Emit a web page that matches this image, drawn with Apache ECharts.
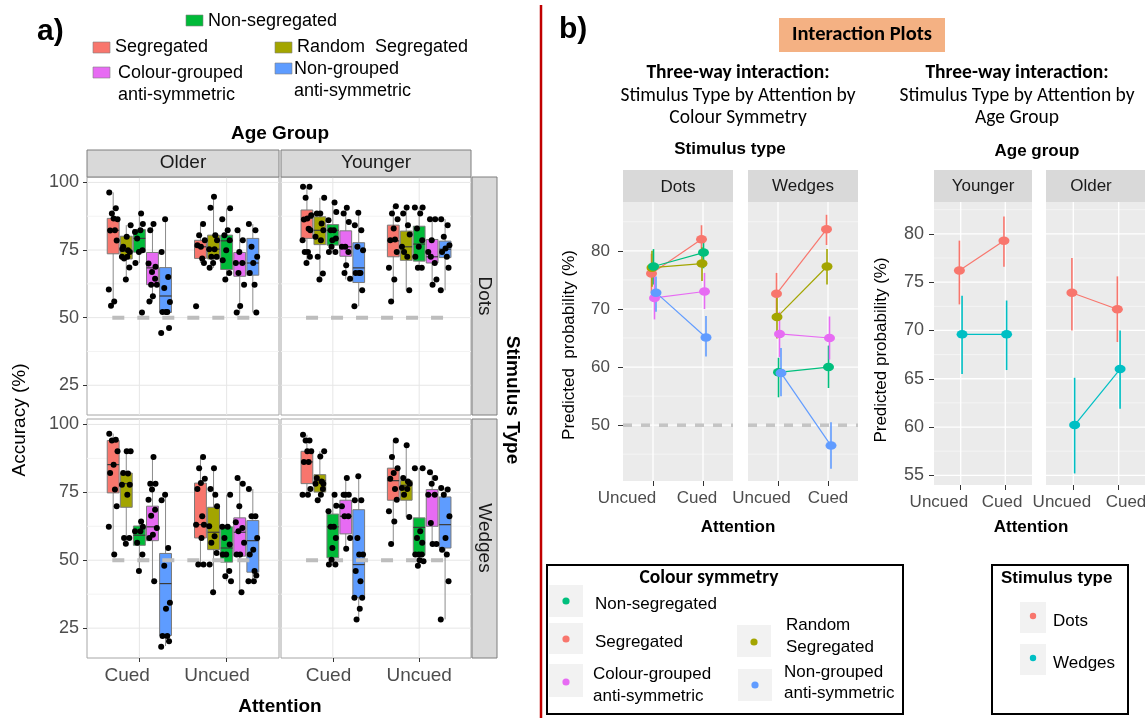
<!DOCTYPE html>
<html>
<head>
<meta charset="utf-8">
<script src="https://cdn.jsdelivr.net/npm/echarts@6/dist/echarts.min.js"></script>
<style>
  html, body { margin: 0; padding: 0; background: #fff; }
  #chart { width: 1145px; height: 718px; }
</style>
</head>
<body>
<div id="chart"></div>
<script>
// ---------- data ----------
const symmetryGroups = ['Segregated', 'Random Segregated', 'Non-segregated', 'Colour-grouped anti-symmetric', 'Non-grouped anti-symmetric'];
const attentionA = ['Cued', 'Uncued'];
const attentionB = ['Uncued', 'Cued'];
const stimulusTypes = ['Dots', 'Wedges'];
const chanceLevel = 50;

const accuracyTicks = [25, 50, 75, 100];
const accuracyMinor = [37.5, 62.5, 87.5];
const probTicks = [50, 60, 70, 80];
const probMinor = [45, 55, 65, 75, 85];
const ageProbTicks = [55, 60, 65, 70, 75, 80];
const ageProbMinor = [57.5, 62.5, 67.5, 72.5, 77.5, 82.5];

// box stats per colour symmetry group: [low, q1, median, q3, high]
const boxOlderDotsCued = [[54.4, 73.6, 82.3, 86.7, 96.3], [64.1, 71.7, 74.6, 80.1, 84.2], [70.2, 74.2, 79.3, 82.6, 88.5], [56.0, 62.2, 68.4, 74.1, 84.6], [51.9, 51.9, 58.0, 68.5, 86.4]];
const boxOlderDotsUncued = [[70.2, 71.9, 76.2, 78.6, 84.6], [68.4, 71.7, 75.3, 80.5, 94.7], [64.1, 67.8, 78.4, 80.5, 90.4], [51.9, 65.3, 70.2, 74.1, 82.3], [51.9, 65.7, 70.2, 79.3, 84.6]];
const boxYoungerDotsCued = [[70.2, 79.3, 86.7, 89.8, 98.4], [64.1, 77.0, 82.3, 87.3, 94.3], [74.3, 76.8, 82.3, 84.4, 92.6], [64.1, 72.7, 76.2, 82.1, 90.6], [54.2, 63.0, 68.4, 77.7, 88.8]];
const boxYoungerDotsUncued = [[56.0, 72.5, 78.4, 84.2, 91.2], [60.1, 71.2, 76.2, 82.0, 90.7], [68.4, 70.9, 77.2, 83.8, 90.7], [62.2, 70.2, 72.5, 78.9, 86.4], [60.1, 72.2, 75.3, 78.3, 86.4]];
const boxOlderWedgesCued = [[52.1, 74.8, 85.2, 94.1, 96.6], [56.1, 69.5, 78.2, 82.1, 90.1], [46.0, 55.5, 59.2, 62.6, 64.3], [42.3, 57.2, 62.3, 69.9, 88.0], [18.4, 22.3, 41.4, 52.5, 74.1]];
const boxOlderWedgesUncued = [[48.4, 58.2, 63.1, 78.4, 88.0], [38.2, 53.9, 60.3, 69.5, 83.9], [42.3, 49.3, 54.5, 62.3, 74.1], [38.2, 51.5, 60.3, 65.6, 80.3], [41.9, 45.6, 57.2, 64.6, 76.2]];
const boxYoungerWedgesCued = [[74.1, 78.2, 86.2, 90.1, 96.2], [72.1, 75.1, 79.4, 81.5, 90.1], [48.0, 50.9, 62.3, 67.0, 74.1], [54.2, 59.7, 66.2, 72.1, 80.3], [28.2, 36.2, 48.4, 68.6, 80.9]];
const boxYoungerWedgesUncued = [[56.0, 72.1, 79.3, 83.9, 94.1], [65.9, 72.1, 77.6, 79.3, 92.3], [48.0, 51.8, 62.1, 65.6, 83.9], [56.0, 62.5, 74.1, 76.0, 82.4], [28.2, 54.5, 63.1, 73.3, 76.6]];

// individual participant accuracies per group
const ptsOlderDotsCued = [
  [96.3, 90.4, 88.5, 86.4, 86.7, 82.2, 82.3, 78.5, 60.4, 56.0, 54.4],
  [84.2, 79.9, 76.2, 74.9, 74.3, 72.5, 72.5, 71.9, 68.5, 64.1, 75.4],
  [88.5, 84.6, 81.7, 82.3, 79.3, 74.9, 74.3, 70.2, 51.9],
  [84.6, 82.3, 68.8, 66.9, 70.0, 64.4, 62.2, 62.2, 57.9, 56.0],
  [86.4, 74.3, 65.0, 61.0, 55.8, 52.1, 52.1, 52.1, 46.2, 44.3]
];
const ptsOlderDotsUncued = [
  [84.6, 80.5, 78.6, 76.2, 76.8, 71.9, 70.2, 54.2],
  [94.7, 90.6, 80.5, 78.6, 75.3, 75.3, 72.5, 72.5, 70.2, 68.4],
  [90.4, 86.4, 82.3, 80.5, 78.6, 74.9, 71.2, 66.5, 64.1],
  [82.3, 78.6, 74.3, 70.2, 70.2, 66.5, 62.2, 54.3, 51.9],
  [84.6, 82.3, 76.2, 72.5, 70.2, 66.5, 62.2, 51.9]
];
const ptsYoungerDotsCued = [
  [98.4, 98.4, 94.3, 87.9, 86.7, 86.3, 82.9, 82.3, 78.6, 74.3, 74.3, 72.5, 70.2],
  [94.3, 88.5, 88.5, 84.8, 82.3, 79.9, 78.6, 72.5, 66.3, 64.1],
  [92.6, 89.1, 86.0, 82.3, 82.3, 79.3, 78.6, 74.3, 74.3, 76.2],
  [90.6, 88.5, 85.4, 76.2, 76.2, 74.3, 66.5, 64.4, 69.4],
  [88.8, 84.2, 82.3, 76.2, 74.9, 66.5, 66.5, 66.5, 60.1, 54.2]
];
const ptsYoungerDotsUncued = [
  [91.2, 88.5, 86.4, 83.0, 78.6, 78.9, 74.3, 68.4, 64.1, 56.0],
  [90.7, 88.5, 84.2, 80.7, 76.2, 72.5, 74.3, 60.1],
  [90.7, 90.7, 88.5, 83.0, 78.6, 76.2, 72.5, 68.4, 68.4],
  [86.4, 86.4, 78.6, 74.3, 70.2, 72.5, 64.1, 62.2],
  [86.4, 84.2, 79.9, 76.8, 75.6, 74.3, 72.5, 68.4, 60.1]
];
const ptsOlderWedgesCued = [
  [96.6, 94.4, 94.1, 90.1, 85.2, 82.1, 76.0, 69.9, 62.3, 52.1],
  [90.1, 90.1, 82.1, 81.9, 77.8, 77.8, 74.1, 58.2, 58.2, 56.1],
  [64.3, 62.3, 60.7, 60.7, 56.4, 52.1, 46.0],
  [88.0, 78.2, 78.2, 76.0, 72.3, 68.6, 66.4, 61.9, 59.4, 58.2, 42.3],
  [74.1, 72.1, 54.5, 48.0, 34.3, 32.1, 22.1, 22.1, 20.2, 18.1]
];
const ptsOlderWedgesUncued = [
  [88.0, 83.9, 80.0, 78.4, 76.2, 66.2, 63.1, 63.1, 58.2, 48.4, 48.4],
  [83.9, 76.2, 74.1, 69.9, 62.5, 58.8, 56.4, 52.7, 38.2, 48.4],
  [74.1, 62.3, 62.3, 58.2, 55.8, 52.1, 52.1, 46.0, 44.1, 42.3],
  [80.3, 78.2, 69.9, 64.0, 61.9, 60.7, 56.4, 52.1, 52.1, 38.2],
  [76.2, 66.2, 66.2, 58.2, 53.9, 52.1, 46.0, 44.4, 42.3, 42.3]
];
const ptsYoungerWedgesCued = [
  [96.2, 94.1, 94.1, 90.1, 90.1, 86.2, 86.2, 76.2, 74.1, 74.1],
  [90.1, 88.2, 80.3, 79.0, 78.2, 78.2, 74.1, 72.1, 76.2],
  [74.1, 70.1, 68.0, 62.3, 62.3, 58.2, 54.5, 48.4, 48.4, 50.2],
  [80.3, 74.1, 74.1, 74.1, 69.9, 66.2, 66.2, 58.2, 54.2],
  [80.9, 72.1, 72.1, 58.2, 52.1, 52.1, 46.0, 42.3, 36.2, 36.2, 32.1, 28.2]
];
const ptsYoungerWedgesUncued = [
  [94.1, 88.0, 83.9, 82.1, 80.0, 76.2, 72.3, 68.0, 64.3, 56.0],
  [92.3, 80.3, 79.0, 78.2, 76.6, 76.2, 74.1, 65.9],
  [83.9, 83.9, 60.7, 58.2, 56.4, 52.1, 52.1, 52.1, 48.0, 49.6, 50.0],
  [82.4, 80.3, 78.2, 74.1, 74.1, 63.7, 56.0, 56.0],
  [76.6, 76.0, 74.1, 66.2, 58.2, 53.9, 52.1, 42.3, 28.2]
];

// predicted probability [mean, lower, upper] for Uncued, Cued
const probSymDots = [
  [[76.1, 72.8, 79.5], [82.0, 79.4, 84.4]],
  [[77.1, 73.8, 80.0], [77.8, 74.8, 80.6]],
  [[77.3, 74.2, 80.3], [79.7, 77.0, 82.3]],
  [[71.9, 68.2, 75.7], [73.0, 70.0, 76.2]],
  [[72.8, 69.5, 75.6], [65.1, 61.8, 68.8]]
];
const probSymWedges = [
  [[72.6, 69.0, 76.2], [83.7, 81.0, 86.2]],
  [[68.6, 64.9, 72.3], [77.3, 74.2, 80.3]],
  [[59.1, 54.8, 61.6], [60.0, 56.4, 63.7]],
  [[65.7, 61.7, 69.5], [65.0, 61.3, 68.7]],
  [[59.0, 55.0, 63.3], [46.5, 42.5, 50.5]]
];
const probAgeYounger = [
  [[76.2, 72.7, 79.3], [79.3, 76.6, 81.8]],
  [[69.6, 65.5, 73.6], [69.6, 65.9, 73.1]]
];
const probAgeOlder = [
  [[73.9, 70.0, 77.5], [72.2, 68.8, 75.6]],
  [[60.2, 55.2, 65.1], [66.0, 61.9, 70.0]]
];

// ---------- styles ----------
const colsA = ['#F8766D', '#A3A500', '#00BA38', '#E76BF3', '#5E9CFF'];
const colsB = ['#F8766D', '#A3A500', '#00BF7D', '#E76BF3', '#619CFF'];
const colsStim = ['#F8766D', '#00BFC4'];
const FONT = 'Liberation Sans';
const CALIBRI = 'Carlito, Lato, sans-serif';
const dodgeA = 0.15;
const boxHalf = 0.068;
const jitter = [-0.045, 0.03, -0.015, 0.05, 0.005, -0.035, 0.02, 0.04, -0.05, 0.012, -0.025, 0.035, -0.005];
const dodgeSym = [-0.03, -0.02, 0.01, 0.03, 0.06];
const dodgeAge = [-0.03, 0.03];

const grids = [
  { left: 87, top: 177, width: 192, height: 238 },   // a: Older / Dots
  { left: 281, top: 177, width: 190, height: 238 },  // a: Younger / Dots
  { left: 87, top: 419, width: 192, height: 239 },   // a: Older / Wedges
  { left: 281, top: 419, width: 190, height: 239 },  // a: Younger / Wedges
  { left: 623, top: 202, width: 110, height: 279 },  // b: Dots
  { left: 748, top: 202, width: 110, height: 279 },  // b: Wedges
  { left: 934, top: 202, width: 98, height: 283 },   // b: Younger
  { left: 1046, top: 202, width: 100, height: 283 }  // b: Older
];
// where the attention labels sit along each x axis (the source figure sets them off the ticks)
const labelSpots = [[1, 2], [1, 2], [0.86, 1.89], [0.95, 2.0], [0.48, 1.88], [0.67, 2.0], [0.51, 1.93], [0.75, 2.16]];

const series = [];

function gridLineSeries(gi, lines, major, minor) {
  // lines: [orientation (0 = horizontal, 1 = vertical), value, isMajor]
  return {
    type: 'custom', xAxisIndex: gi, yAxisIndex: gi, silent: true, z: 1, data: lines,
    renderItem: (params, api) => {
      const cs = params.coordSys;
      const st = api.value(2) ? major : minor;
      if (api.value(0) === 0) {
        const y = api.coord([1, api.value(1)])[1];
        return { type: 'line', shape: { x1: cs.x, y1: y, x2: cs.x + cs.width, y2: y }, style: { stroke: st.color, lineWidth: st.width } };
      }
      const x = api.coord([api.value(1), 60])[0];
      return { type: 'line', shape: { x1: x, y1: cs.y, x2: x, y2: cs.y + cs.height }, style: { stroke: st.color, lineWidth: st.width } };
    }
  };
}

function lineSpec(majorY, minorY) {
  const out = [];
  majorY.forEach(v => out.push([0, v, 1]));
  minorY.forEach(v => out.push([0, v, 0]));
  [1, 2].forEach(v => out.push([1, v, 1]));
  return out;
}

function renderBox(params, api) {
  const x = api.value(0), g = api.value(6);
  const lo = api.coord([x, api.value(1)]), hi = api.coord([x, api.value(5)]);
  const q1 = api.coord([x - boxHalf, api.value(2)]), q3 = api.coord([x + boxHalf, api.value(4)]);
  const mL = api.coord([x - boxHalf, api.value(3)]), mR = api.coord([x + boxHalf, api.value(3)]);
  return {
    type: 'group', children: [
      { type: 'line', shape: { x1: lo[0], y1: lo[1], x2: hi[0], y2: hi[1] }, style: { stroke: '#8c8c8c', lineWidth: 1 } },
      { type: 'rect', shape: { x: q1[0], y: q3[1], width: q3[0] - q1[0], height: q1[1] - q3[1] }, style: { fill: colsA[g], stroke: '#7a7a7a', lineWidth: 1 } },
      { type: 'line', shape: { x1: mL[0], y1: mL[1], x2: mR[0], y2: mR[1] }, style: { stroke: '#3a3a3a', lineWidth: 1.2 } }
    ]
  };
}

// ---------- panel a ----------
const panelsA = [
  { boxes: [boxOlderDotsCued, boxOlderDotsUncued], pts: [ptsOlderDotsCued, ptsOlderDotsUncued] },
  { boxes: [boxYoungerDotsCued, boxYoungerDotsUncued], pts: [ptsYoungerDotsCued, ptsYoungerDotsUncued] },
  { boxes: [boxOlderWedgesCued, boxOlderWedgesUncued], pts: [ptsOlderWedgesCued, ptsOlderWedgesUncued] },
  { boxes: [boxYoungerWedgesCued, boxYoungerWedgesUncued], pts: [ptsYoungerWedgesCued, ptsYoungerWedgesUncued] }
];

panelsA.forEach((p, gi) => {
  const boxData = [], ptData = [];
  p.boxes.forEach((set, ci) => set.forEach((s, g) => {
    const x = ci + 1 + (g - 2) * dodgeA;
    boxData.push([x].concat(s, [g]));
    p.pts[ci][g].forEach((y, k) => ptData.push([x + jitter[(k + g * 3 + ci) % jitter.length], y]));
  }));
  series.push(gridLineSeries(gi, lineSpec(accuracyTicks, accuracyMinor),
    { color: '#e6e6e6', width: 1 }, { color: '#f3f3f3', width: 1 }));
  series.push({ type: 'custom', xAxisIndex: gi, yAxisIndex: gi, z: 3, silent: true, data: boxData, renderItem: renderBox });
  series.push({
    type: 'line', xAxisIndex: gi, yAxisIndex: gi, z: 4, silent: true, symbol: 'none',
    data: [[0.69, chanceLevel], [2.30, chanceLevel]],
    lineStyle: { color: '#bdbdbd', width: 4, type: [12, 13] }
  });
  series.push({
    type: 'scatter', xAxisIndex: gi, yAxisIndex: gi, z: 5, silent: true, data: ptData,
    symbolSize: 6, itemStyle: { color: '#000', opacity: 1 }
  });
});

// ---------- panel b ----------
function buildInteraction(gi, groups, cols, dodge, majorY, minorY, withChance) {
  series.push(gridLineSeries(gi, lineSpec(majorY, minorY),
    { color: '#ffffff', width: 1.3 }, { color: '#f6f6f6', width: 0.8 }));
  if (withChance) {
    series.push({
      type: 'line', xAxisIndex: gi, yAxisIndex: gi, z: 2, silent: true, symbol: 'none',
      data: [[0.4, chanceLevel], [2.6, chanceLevel]],
      lineStyle: { color: '#c4c4c4', width: 3.5, type: [9, 9] }
    });
  }
  const errData = [], ptData = [];
  groups.forEach((g, k) => {
    series.push({
      type: 'line', xAxisIndex: gi, yAxisIndex: gi, z: 3, silent: true, symbol: 'none',
      data: g.map((v, ci) => [ci + 1 + dodge[k], v[0]]),
      lineStyle: { color: cols[k], width: 1.2 }
    });
    g.forEach((v, ci) => {
      errData.push([ci + 1 + dodge[k], v[1], v[2], k]);
      ptData.push([ci + 1 + dodge[k], v[0], k]);
    });
  });
  series.push({
    type: 'custom', xAxisIndex: gi, yAxisIndex: gi, z: 4, silent: true, data: errData,
    renderItem: (params, api) => {
      const a = api.coord([api.value(0), api.value(1)]), b = api.coord([api.value(0), api.value(2)]);
      return { type: 'line', shape: { x1: a[0], y1: a[1], x2: b[0], y2: b[1] }, style: { stroke: cols[api.value(3)], lineWidth: 1.6 } };
    }
  });
  series.push({
    type: 'scatter', xAxisIndex: gi, yAxisIndex: gi, z: 5, silent: true, data: ptData,
    symbol: 'circle', symbolSize: [11, 8.5],
    itemStyle: { color: p => cols[p.value[2]], opacity: 1 }
  });
}

buildInteraction(4, probSymDots, colsB, dodgeSym, probTicks, probMinor, true);
buildInteraction(5, probSymWedges, colsB, dodgeSym, probTicks, probMinor, true);
buildInteraction(6, probAgeYounger, colsStim, dodgeAge, ageProbTicks, ageProbMinor, false);
buildInteraction(7, probAgeOlder, colsStim, dodgeAge, ageProbTicks, ageProbMinor, false);

// ---------- axes ----------
const xAxes = grids.map((g, i) => {
  const isA = i < 4;
  const showX = isA ? i >= 2 : true;
  const names = isA ? attentionA : attentionB;
  return {
    type: 'value', gridIndex: i, min: 0.4, max: 2.6,
    axisLine: { show: false }, splitLine: { show: false },
    axisTick: { show: showX, length: isA ? 4 : 5, customValues: [1, 2], lineStyle: { color: '#333', width: 1 } },
    axisLabel: {
      show: showX, customValues: labelSpots[i], interval: 0, hideOverlap: false,
      formatter: v => names[v < 1.5 ? 0 : 1],
      fontFamily: FONT, fontSize: isA ? 19 : 17, color: '#4d4d4d', margin: isA ? 8 : 9
    }
  };
});

const yRanges = [[14, 102], [14, 102], [14, 102], [14, 102], [40.4, 88.4], [40.4, 88.4], [54, 83.3], [54, 83.3]];
const yTickSets = [accuracyTicks, accuracyTicks, accuracyTicks, accuracyTicks, probTicks, probTicks, ageProbTicks, ageProbTicks];
const yShow = [true, false, true, false, true, false, true, false];
const yAxes = grids.map((g, i) => ({
  type: 'value', gridIndex: i, min: yRanges[i][0], max: yRanges[i][1],
  axisLine: { show: false }, splitLine: { show: false },
  axisTick: { show: yShow[i], length: i < 4 ? 4 : 5, customValues: yTickSets[i], lineStyle: { color: '#333', width: 1 } },
  axisLabel: {
    show: yShow[i], customValues: yTickSets[i], interval: 0, hideOverlap: false,
    fontFamily: FONT, fontSize: i < 4 ? 18 : (i < 6 ? 17 : 18), color: '#4d4d4d',
    margin: i < 4 ? 8 : (i < 6 ? 13 : 10)
  }
}));

// ---------- decorations / text ----------
function txt(s, x, y, o) {
  o = o || {};
  const al = o.align || 'center';
  return {
    type: 'text', x: x, y: y, rotation: o.rot || 0, z: 100, silent: true,
    style: {
      text: s, fontSize: o.size || 17, fontWeight: o.bold ? 'bold' : 'normal',
      fontFamily: o.font || FONT, fill: o.color || '#000',
      align: al, verticalAlign: 'middle', textAlign: al, textVerticalAlign: 'middle'
    }
  };
}
function rect(x, y, w, h, fill, stroke, lw) {
  return { type: 'rect', z: 90, silent: true, shape: { x: x, y: y, width: w, height: h }, style: { fill: fill, stroke: stroke || null, lineWidth: lw || 0 } };
}
function dot(cx, cy, r, fill) {
  return { type: 'circle', z: 95, silent: true, shape: { cx: cx, cy: cy, r: r }, style: { fill: fill } };
}

const graphics = [
  // panel letters and divider
  txt('a)', 37, 32, { size: 30, bold: true, align: 'left' }),
  txt('b)', 559, 30, { size: 30, bold: true, align: 'left' }),
  { type: 'line', z: 100, silent: true, shape: { x1: 541, y1: 5, x2: 541, y2: 718 }, style: { stroke: '#C00000', lineWidth: 2.5 } },

  // legend a
  rect(186, 15, 17, 11, colsA[2], '#7f7f7f', 0.6), txt(symmetryGroups[2], 208, 21, { size: 18, align: 'left' }),
  rect(93, 42, 17, 11, colsA[0], '#7f7f7f', 0.6), txt(symmetryGroups[0], 115, 47, { size: 18, align: 'left' }),
  rect(275, 42, 17, 11, colsA[1], '#7f7f7f', 0.6), txt('Random  Segregated', 297, 47, { size: 18, align: 'left' }),
  rect(93, 67, 17, 11, colsA[3], '#7f7f7f', 0.6), txt('Colour-grouped', 118, 73, { size: 18, align: 'left' }), txt('anti-symmetric', 118, 95, { size: 18, align: 'left' }),
  rect(275, 63, 17, 11, colsA[4], '#7f7f7f', 0.6), txt('Non-grouped', 294, 69, { size: 18, align: 'left' }), txt('anti-symmetric', 294, 91, { size: 18, align: 'left' }),

  // facet strips a
  txt('Age Group', 280, 134, { size: 19, bold: true }),
  rect(87, 150, 192, 27, '#d9d9d9', '#7f7f7f', 1), txt('Older', 183, 163, { size: 19, color: '#1a1a1a' }),
  rect(281, 150, 190, 27, '#d9d9d9', '#7f7f7f', 1), txt('Younger', 376, 163, { size: 19, color: '#1a1a1a' }),
  rect(472, 177, 25, 238, '#d9d9d9', '#7f7f7f', 1), txt(stimulusTypes[0], 484.5, 296, { size: 19, color: '#1a1a1a', rot: -Math.PI / 2 }),
  rect(472, 419, 25, 239, '#d9d9d9', '#7f7f7f', 1), txt(stimulusTypes[1], 484.5, 538, { size: 19, color: '#1a1a1a', rot: -Math.PI / 2 }),
  txt('Stimulus Type', 512, 400, { size: 19, bold: true, rot: -Math.PI / 2 }),
  txt('Accuracy (%)', 20, 420, { size: 19, rot: Math.PI / 2 }),
  txt('Attention', 280, 707, { size: 19, bold: true }),

  // panel b headings
  rect(779, 18, 166, 34, '#F4B183'),
  txt('Interaction Plots', 862, 35, { size: 20.5, bold: true, font: CALIBRI }),
  txt('Three-way interaction:', 738, 73, { size: 19.5, bold: true, font: CALIBRI }),
  txt('Stimulus Type by Attention by', 738, 96, { size: 19.5, font: CALIBRI }),
  txt('Colour Symmetry', 738, 118, { size: 19.5, font: CALIBRI }),
  txt('Three-way interaction:', 1017, 73, { size: 19.5, bold: true, font: CALIBRI }),
  txt('Stimulus Type by Attention by', 1017, 96, { size: 19.5, font: CALIBRI }),
  txt('Age Group', 1017, 118, { size: 19.5, font: CALIBRI }),
  txt('Stimulus type', 730, 149, { size: 17, bold: true }),
  txt('Age group', 1037, 151, { size: 17, bold: true }),

  // facet strips b
  rect(623, 170, 110, 32, '#d9d9d9'), txt(stimulusTypes[0], 678, 187, { size: 17, color: '#1a1a1a' }),
  rect(748, 170, 110, 32, '#d9d9d9'), txt(stimulusTypes[1], 803, 186, { size: 17, color: '#1a1a1a' }),
  rect(934, 170, 98, 32, '#d9d9d9'), txt('Younger', 983, 186, { size: 17, color: '#1a1a1a' }),
  rect(1046, 170, 100, 32, '#d9d9d9'), txt('Older', 1091, 186, { size: 17, color: '#1a1a1a' }),
  txt('Predicted  probability (%)', 569, 345, { size: 17, rot: Math.PI / 2 }),
  txt('Predicted probability (%)', 881, 350, { size: 17, rot: Math.PI / 2 }),
  txt('Attention', 738, 527, { size: 17, bold: true }),
  txt('Attention', 1031, 527, { size: 17, bold: true }),

  // legend: colour symmetry
  rect(547, 565, 356, 149, '#fff', '#000', 2),
  txt('Colour symmetry', 709, 578, { size: 19.5, bold: true, font: CALIBRI }),
  rect(549, 585, 34, 32, '#f2f2f2'), dot(566, 601, 3.6, colsB[2]), txt(symmetryGroups[2], 595, 604, { align: 'left' }),
  rect(549, 623, 34, 31, '#f2f2f2'), dot(566, 639, 3.6, colsB[0]), txt(symmetryGroups[0], 595, 642, { align: 'left' }),
  rect(549, 664, 34, 33, '#f2f2f2'), dot(566, 682, 3.6, colsB[3]), txt('Colour-grouped', 593, 674, { align: 'left' }), txt('anti-symmetric', 593, 696, { align: 'left' }),
  rect(737, 625, 34, 32, '#f2f2f2'), dot(754, 642, 3.6, colsB[1]), txt('Random', 786, 625, { align: 'left' }), txt('Segregated', 786, 647, { align: 'left' }),
  rect(738, 669, 34, 32, '#f2f2f2'), dot(755, 685, 3.6, colsB[4]), txt('Non-grouped', 784, 672, { align: 'left' }), txt('anti-symmetric', 784, 693, { align: 'left' }),

  // legend: stimulus type
  rect(992, 565, 136, 149, '#fff', '#000', 2),
  txt('Stimulus type', 1001, 578, { size: 17, bold: true, align: 'left' }),
  rect(1020, 602, 26, 31, '#f2f2f2'), dot(1033, 616, 3.2, colsStim[0]), txt(stimulusTypes[0], 1053, 621, { align: 'left' }),
  rect(1020, 644, 26, 31, '#f2f2f2'), dot(1033, 658, 3.2, colsStim[1]), txt(stimulusTypes[1], 1053, 663, { align: 'left' })
];

const chart = echarts.init(document.getElementById('chart'));
chart.setOption({
  animation: false,
  backgroundColor: '#fff',
  textStyle: { fontFamily: FONT },
  grid: grids.map((g, i) => Object.assign({
    show: true, outerBoundsMode: 'none', containLabel: false,
    backgroundColor: i < 4 ? '#fff' : '#EBEBEB',
    borderColor: i < 4 ? '#a6a6a6' : 'transparent', borderWidth: i < 4 ? 1 : 0
  }, g)),
  xAxis: xAxes,
  yAxis: yAxes,
  series: series,
  graphic: { elements: graphics }
});
</script>
</body>
</html>
